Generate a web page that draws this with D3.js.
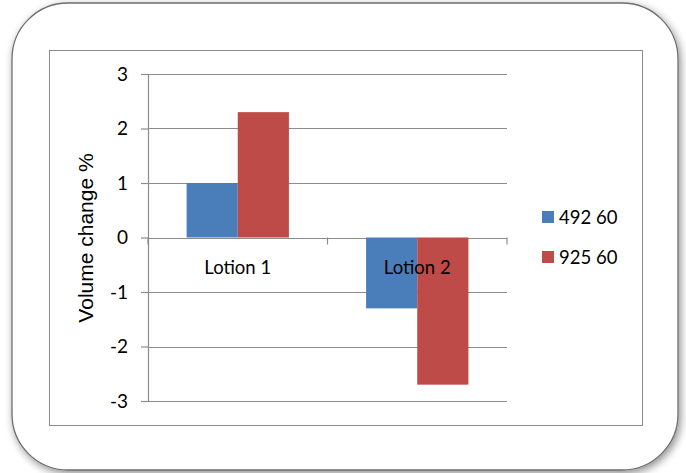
<!DOCTYPE html>
<html>
<head>
<meta charset="utf-8">
<script src="https://cdn.jsdelivr.net/npm/d3@7"></script>
<style>
  body { margin: 0; background: #fff; }
  svg text { font-family: Lato, "Liberation Sans", sans-serif; }
</style>
</head>
<body>
<div id="plot"></div>
<script>
// chart values
const categories = ["Lotion 1", "Lotion 2"];
const seriesNames = ["492 60", "925 60"];
const series1 = [1.0, -1.3];
const series2 = [2.3, -2.7];
const yTicks = [3, 2, 1, 0, -1, -2, -3];
const colors = ["#4a7ebb", "#be4b48"];

const W = 686, H = 473;
const margin = {top: 74, left: 148, right: 179, bottom: 72};
const width = W - margin.left - margin.right,
      height = H - margin.top - margin.bottom;

const svg = d3.select("#plot")
    .append("svg")
    .attr("width", W)
    .attr("height", H);

// drop shadow for the rounded frame
const defs = svg.append("defs");
const f = defs.append("filter").attr("id", "shadow")
    .attr("x", "-10%").attr("y", "-10%").attr("width", "120%").attr("height", "120%");
f.append("feGaussianBlur").attr("in", "SourceAlpha").attr("stdDeviation", 4);
f.append("feOffset").attr("dx", 2).attr("dy", 3).attr("result", "b");
f.append("feComponentTransfer").append("feFuncA").attr("type", "linear").attr("slope", 0.45);
const fm = f.append("feMerge");
fm.append("feMergeNode");
fm.append("feMergeNode").attr("in", "SourceGraphic");

svg.append("rect")
    .attr("x", 12).attr("y", 3)
    .attr("width", 666).attr("height", 467)
    .attr("rx", 56).attr("ry", 56)
    .attr("fill", "#fff")
    .attr("stroke", "#6e6e6e")
    .attr("stroke-width", 1.3)
    .attr("filter", "url(#shadow)");

// inner chart area frame
svg.append("rect")
    .attr("x", 49.5).attr("y", 50.5)
    .attr("width", 593).attr("height", 375)
    .attr("fill", "#fff")
    .attr("stroke", "#8c8c8c")
    .attr("stroke-width", 1);

const g = svg.append("g")
    .attr("transform", "translate(" + margin.left + "," + margin.top + ")");

const y = d3.scaleLinear().domain([-3, 3]).range([height, 0]);
const x0 = d3.scaleBand().domain(categories).range([0, width]).paddingInner(0.43).paddingOuter(0.215);
const x1 = d3.scaleBand().domain([0, 1]).range([0, x0.bandwidth()]);

// gridlines
g.append("g")
    .selectAll("line")
    .data(yTicks)
    .enter()
    .append("line")
    .attr("x1", 0).attr("x2", width)
    .attr("y1", d => Math.round(y(d)) + 0.5)
    .attr("y2", d => Math.round(y(d)) + 0.5)
    .attr("stroke", "#8c8c8c")
    .attr("stroke-width", 1.2);

// bars
const data = categories.map((c, i) => ({cat: c, vals: [series1[i], series2[i]]}));
g.append("g")
    .selectAll("g")
    .data(data)
    .enter()
    .append("g")
    .attr("transform", d => "translate(" + x0(d.cat) + ",0)")
    .selectAll("rect")
    .data(d => d.vals.map((v, k) => ({v: v, k: k})))
    .enter()
    .append("rect")
    .attr("x", d => x1(d.k))
    .attr("width", x1.bandwidth())
    .attr("y", d => y(Math.max(0, d.v)))
    .attr("height", d => Math.abs(y(d.v) - y(0)))
    .attr("fill", d => colors[d.k]);

// y axis
const yAxis = g.append("g")
    .call(d3.axisLeft(y).tickValues(yTicks).tickSize(7).tickPadding(13).tickFormat(d3.format("d")));
yAxis.select(".domain").attr("stroke", "#8c8c8c").attr("stroke-width", 1.2).attr("d", "M0.5,0V" + height);
yAxis.selectAll(".tick line").attr("stroke", "#8c8c8c").attr("stroke-width", 1.2);
yAxis.selectAll(".tick text")
    .attr("font-size", 19)
    .attr("fill", "#000")
    .style("font-family", "Lato, sans-serif")
    .text(d => d < 0 ? "-" + Math.abs(d) : d);

// category axis at zero with outward ticks
const xAxis = g.append("g")
    .attr("transform", "translate(0," + y(0) + ")");
const catEdges = [0, width / 2, width];
xAxis.selectAll("line.ct")
    .data(catEdges)
    .enter()
    .append("line")
    .attr("class", "ct")
    .attr("x1", d => d).attr("x2", d => d)
    .attr("y1", 0).attr("y2", 7)
    .attr("stroke", "#8c8c8c").attr("stroke-width", 1.2);
xAxis.selectAll("text")
    .data(categories)
    .enter()
    .append("text")
    .attr("x", d => x0(d) + x0.bandwidth() / 2)
    .attr("y", 36)
    .attr("text-anchor", "middle")
    .attr("font-size", 18.5)
    .attr("fill", "#000")
    .text(d => d);

// y title
svg.append("text")
    .attr("transform", "translate(93,238) rotate(-90)")
    .attr("text-anchor", "middle")
    .attr("font-size", 21)
    .style("font-family", "'Liberation Sans', Arial, sans-serif")
    .attr("fill", "#000")
    .text("Volume change %");

// legend
const legend = svg.append("g")
    .selectAll("g")
    .data(seriesNames)
    .enter()
    .append("g")
    .attr("transform", (d, i) => "translate(542," + (211 + i * 40) + ")");
legend.append("rect")
    .attr("width", 12).attr("height", 12)
    .attr("fill", (d, i) => colors[i]);
legend.append("text")
    .attr("x", 17).attr("y", 12.5)
    .attr("font-size", 18.5)
    .attr("fill", "#000")
    .text(d => d);
</script>
</body>
</html>
